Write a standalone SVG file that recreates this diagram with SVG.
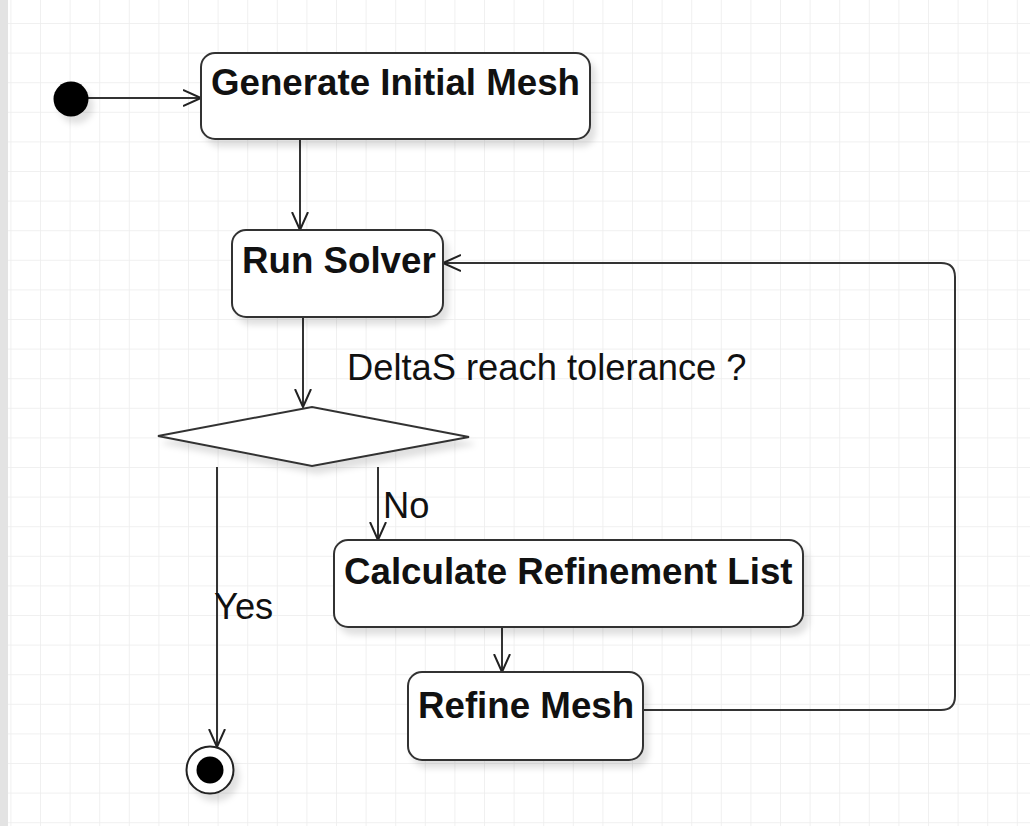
<svg xmlns="http://www.w3.org/2000/svg" width="1030" height="826" viewBox="0 0 1030 826">
<defs>
<pattern id="grid" x="10.4" y="23" width="29.6" height="29.6" patternUnits="userSpaceOnUse">
<path d="M0,0 H29.6 M0,0 V29.6" fill="none" stroke="#ececec" stroke-width="1.5"/>
</pattern>
<filter id="sh" x="-20%" y="-20%" width="150%" height="160%">
<feDropShadow dx="5" dy="7" stdDeviation="3" flood-color="#000" flood-opacity="0.12"/>
</filter>
<marker id="arr" markerUnits="userSpaceOnUse" markerWidth="22" markerHeight="20" refX="18" refY="9" orient="auto">
<path d="M0,1 L18,9 L0,17" fill="none" stroke="#222" stroke-width="2"/>
</marker>
<style>
.box{fill:#fff;stroke:#333;stroke-width:2;filter:url(#sh)}
.lbl{font-family:"Liberation Sans",Arial,sans-serif;font-weight:bold;font-size:36.7px;fill:#111}
.txt{font-family:"Liberation Sans",Arial,sans-serif;font-size:36.3px;fill:#111}
.conn{fill:none;stroke:#333;stroke-width:2}
</style>
</defs>
<rect width="1030" height="826" fill="#fff"/>
<rect width="1030" height="826" fill="url(#grid)"/>
<rect x="0" y="0" width="8" height="826" fill="#e3e3e3"/>

<g id="connectors">
<path class="conn" d="M88,98 H201" marker-end="url(#arr)"/>
<path class="conn" d="M300,139 V230" marker-end="url(#arr)"/>
<path class="conn" d="M303,317 V407" marker-end="url(#arr)"/>
<path class="conn" d="M378,467 V540" marker-end="url(#arr)"/>
<path class="conn" d="M217,467 V747" marker-end="url(#arr)"/>
<path class="conn" d="M502,627 V672" marker-end="url(#arr)"/>
<path class="conn" d="M643,710 H941 Q955,710 955,696 V277 Q955,263 941,263 H443" marker-end="url(#arr)"/>
</g>

<g id="start">
<circle cx="71" cy="99" r="17.5" fill="#000" filter="url(#sh)"/>
</g>

<g id="generate">
<rect class="box" x="201" y="53" width="389" height="86" rx="14"/>
<text class="lbl" x="211" y="95">Generate Initial Mesh</text>
</g>

<g id="solver">
<rect class="box" x="232" y="230" width="211" height="87" rx="14"/>
<text class="lbl" x="242" y="273">Run Solver</text>
</g>

<g id="decision">
<polygon class="box" points="158,436 312,407 469,437 312,466"/>
<text class="txt" x="347" y="380">DeltaS reach tolerance ?</text>
<text class="txt" x="383" y="518">No</text>
<text class="txt" x="214" y="619">Yes</text>
</g>

<g id="calc">
<rect class="box" x="334" y="540" width="469" height="87" rx="14"/>
<text class="lbl" x="344" y="584">Calculate Refinement List</text>
</g>

<g id="refine">
<rect class="box" x="408" y="672" width="235" height="88" rx="14"/>
<text class="lbl" x="418" y="718">Refine Mesh</text>
</g>

<g id="end">
<circle cx="210" cy="770" r="23.5" fill="#fff" stroke="#222" stroke-width="2" filter="url(#sh)"/>
<circle cx="210" cy="770" r="13.5" fill="#000"/>
</g>
</svg>
